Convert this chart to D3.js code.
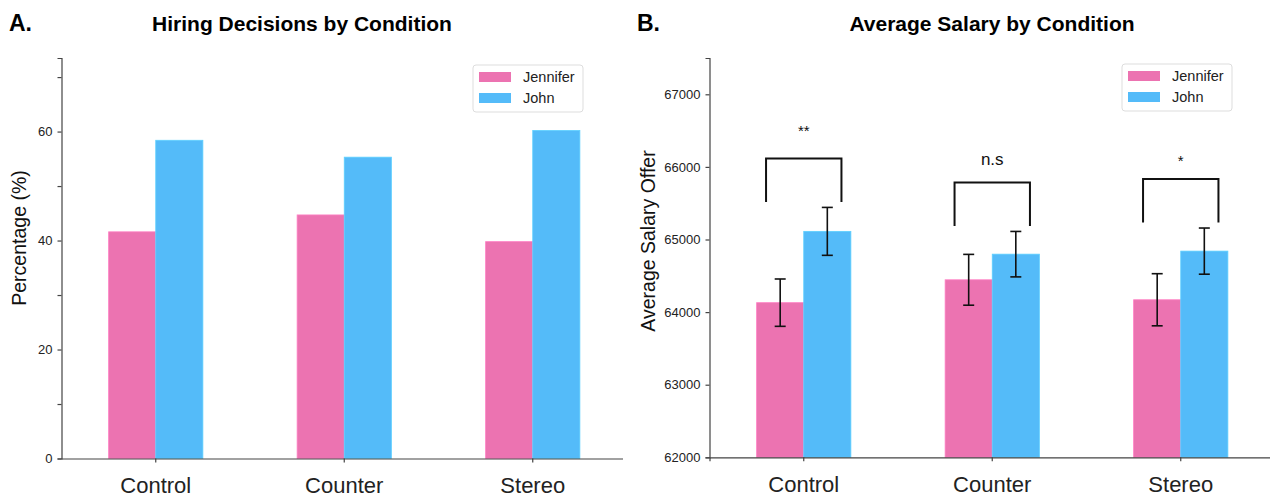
<!DOCTYPE html>
<html>
<head>
<meta charset="utf-8">
<script src="https://cdn.jsdelivr.net/npm/d3@7"></script>
<style>
  body { margin: 0; background: #fff; }
  svg { font-family: "Liberation Sans", Arial, Helvetica, sans-serif; }
  .axis path, .axis line { stroke: #444; stroke-width: 1.2; }
  .axis text { fill: #222; }
</style>
</head>
<body>
<svg></svg>
<script>
// categories and series
const conditions = ["Control", "Counter", "Stereo"];
const series = ["Jennifer", "John"];
const colors = ["#ec73b1", "#54bbf9"];

// panel A: hiring decisions (%)
const hireJennifer = [41.6, 44.7, 39.8];
const hireJohn = [58.4, 55.3, 60.2];

// panel B: average salary offer with error bars
const salaryJennifer = [64130, 64445, 64170];
const salaryJohn = [65112, 64798, 64840];
const errJennifer = [326, 350, 359];
const errJohn = [330, 313, 318];

// significance labels per condition
const sigLabels = ["**", "n.s", "*"];

const hireTicks = [0, 10, 20, 30, 40, 50, 60, 70];
const salaryTicks = [62000, 63000, 64000, 65000, 66000, 67000];

const width = 1270;
const height = 498;

let svg = d3.select("svg").attr("width", width).attr("height", height);

const hireRows = conditions.map((c, i) => ({ cond: c, values: [hireJennifer[i], hireJohn[i]] }));
const salaryRows = conditions.map((c, i) => ({
    cond: c,
    values: [salaryJennifer[i], salaryJohn[i]],
    errs: [errJennifer[i], errJohn[i]]
}));

const drawLegend = (g, x, y) => {
    g.append("rect")
        .attr("x", x).attr("y", y)
        .attr("width", 110).attr("height", 47)
        .attr("rx", 3)
        .attr("fill", "#fff")
        .attr("stroke", "#ddd");
    series.forEach((s, i) => {
        g.append("rect")
            .attr("x", x + 6).attr("y", y + 7 + i * 21)
            .attr("width", 32).attr("height", 10)
            .attr("fill", colors[i]);
        g.append("text")
            .attr("x", x + 50).attr("y", y + 17 + i * 21)
            .attr("font-size", 14.5)
            .attr("fill", "#222")
            .text(s);
    });
};

const drawTitle = (letter, lx, title, tx) => {
    svg.append("text").attr("x", lx).attr("y", 31)
        .attr("font-size", 23).attr("font-weight", "bold").text(letter);
    svg.append("text").attr("x", tx).attr("y", 31)
        .attr("text-anchor", "middle")
        .attr("font-size", 21).attr("font-weight", "bold").text(title);
};

// ---------- Panel A ----------
const xA = d3.scaleBand().domain(conditions).range([61.5, 627]).padding(0);
const innerA = d3.scaleBand().domain(series).range([xA.bandwidth() * 0.25, xA.bandwidth() * 0.75]);
const yA = d3.scaleLinear().domain([0, 73.5]).range([458.5, 58]);

const gA = svg.append("g");

gA.selectAll("g.grp")
    .data(hireRows)
    .enter()
    .append("g")
    .attr("class", "grp")
    .attr("transform", d => "translate(" + xA(d.cond) + ",0)")
    .selectAll("rect")
    .data(d => d.values.map((v, i) => ({ v, i })))
    .enter()
    .append("rect")
    .attr("x", d => innerA(series[d.i]))
    .attr("y", d => yA(d.v))
    .attr("width", innerA.bandwidth())
    .attr("height", d => yA(0) - yA(d.v))
    .attr("fill", d => colors[d.i])
    .attr("stroke", d => d3.color(colors[d.i]).brighter(0.3))
    .attr("stroke-width", 0.8);

const axA = gA.append("g")
    .attr("class", "axis")
    .attr("transform", "translate(0," + yA(0) + ")")
    .call(d3.axisBottom(xA).tickSizeOuter(0).tickSize(4).tickPadding(15));
axA.selectAll("text").attr("font-size", 22);
// spine stops a little short of the band range, as in the source figure
axA.select(".domain").attr("d", "M61.5,0.5H623");

gA.append("g")
    .attr("class", "axis")
    .attr("transform", "translate(61.5,0)")
    .call(d3.axisLeft(yA).tickValues(hireTicks).tickSizeOuter(0).tickSize(4).tickPadding(5)
        .tickFormat(d => d % 20 === 0 ? d : ""))
    .selectAll("text").attr("font-size", 13);

svg.append("text")
    .attr("transform", "translate(26," + 238 + ") rotate(-90)")
    .attr("text-anchor", "middle")
    .attr("font-size", 19.5)
    .attr("fill", "#111")
    .text("Percentage (%)");

drawLegend(gA, 473, 65);
drawTitle("A.", 9, "Hiring Decisions by Condition", 302);

// ---------- Panel B ----------
const xB = d3.scaleBand().domain(conditions).range([709.5, 1275]).padding(0);
const innerB = d3.scaleBand().domain(series).range([xB.bandwidth() * 0.25, xB.bandwidth() * 0.75]);
const yB = d3.scaleLinear().domain([62000, 67500]).range([457.3, 58]);

const gB = svg.append("g");

const groupsB = gB.selectAll("g.grp")
    .data(salaryRows)
    .enter()
    .append("g")
    .attr("class", "grp")
    .attr("transform", d => "translate(" + xB(d.cond) + ",0)");

const barsB = groupsB.selectAll("g.bar")
    .data(d => d.values.map((v, i) => ({ v, e: d.errs[i], i })))
    .enter()
    .append("g")
    .attr("class", "bar");

barsB.append("rect")
    .attr("x", d => innerB(series[d.i]))
    .attr("y", d => yB(d.v))
    .attr("width", innerB.bandwidth())
    .attr("height", d => yB(62000) - yB(d.v))
    .attr("fill", d => colors[d.i])
    .attr("stroke", d => d3.color(colors[d.i]).brighter(0.3))
    .attr("stroke-width", 0.8);

// error bars
const cx = d => innerB(series[d.i]) + innerB.bandwidth() / 2;
barsB.append("line")
    .attr("x1", cx).attr("x2", cx)
    .attr("y1", d => yB(d.v - d.e)).attr("y2", d => yB(d.v + d.e))
    .attr("stroke", "#111").attr("stroke-width", 1.6);
[-1, 1].forEach(s => {
    barsB.append("line")
        .attr("x1", d => cx(d) - 5.5).attr("x2", d => cx(d) + 5.5)
        .attr("y1", d => yB(d.v + s * d.e)).attr("y2", d => yB(d.v + s * d.e))
        .attr("stroke", "#111").attr("stroke-width", 1.6);
});

// significance brackets
const labelGap = [22, 17, 13];
groupsB.each(function (d, i) {
    const g = d3.select(this);
    const base = d3.max(d.values.map((v, k) => v + d.errs[k])) + 75;
    const top = base + 600;
    const mid = xB.bandwidth() / 2;
    const half = xB.bandwidth() * 0.2;
    g.append("path")
        .attr("d", d3.line()([[mid - half, yB(base)], [mid - half, yB(top)], [mid + half, yB(top)], [mid + half, yB(base)]]))
        .attr("fill", "none")
        .attr("stroke", "#111")
        .attr("stroke-width", 2);
    g.append("text")
        .attr("x", mid)
        .attr("y", yB(top) - labelGap[i])
        .attr("text-anchor", "middle")
        .attr("font-size", sigLabels[i] === "n.s" ? 17 : 15)
        .attr("fill", "#111")
        .text(sigLabels[i]);
});

gB.append("g")
    .attr("class", "axis")
    .attr("transform", "translate(0," + yB(62000) + ")")
    .call(d3.axisBottom(xB).tickSizeOuter(0).tickSize(4).tickPadding(15))
    .selectAll("text").attr("font-size", 22);

gB.append("g")
    .attr("class", "axis")
    .attr("transform", "translate(709.5,0)")
    .call(d3.axisLeft(yB).tickValues(salaryTicks).tickSizeOuter(0).tickSize(4).tickPadding(5)
        .tickFormat(d3.format("d")))
    .selectAll("text").attr("font-size", 13);

svg.append("text")
    .attr("transform", "translate(655," + 241 + ") rotate(-90)")
    .attr("text-anchor", "middle")
    .attr("font-size", 19.5)
    .attr("fill", "#111")
    .text("Average Salary Offer");

drawLegend(gB, 1122, 64);
drawTitle("B.", 637, "Average Salary by Condition", 992);
</script>
</body>
</html>
